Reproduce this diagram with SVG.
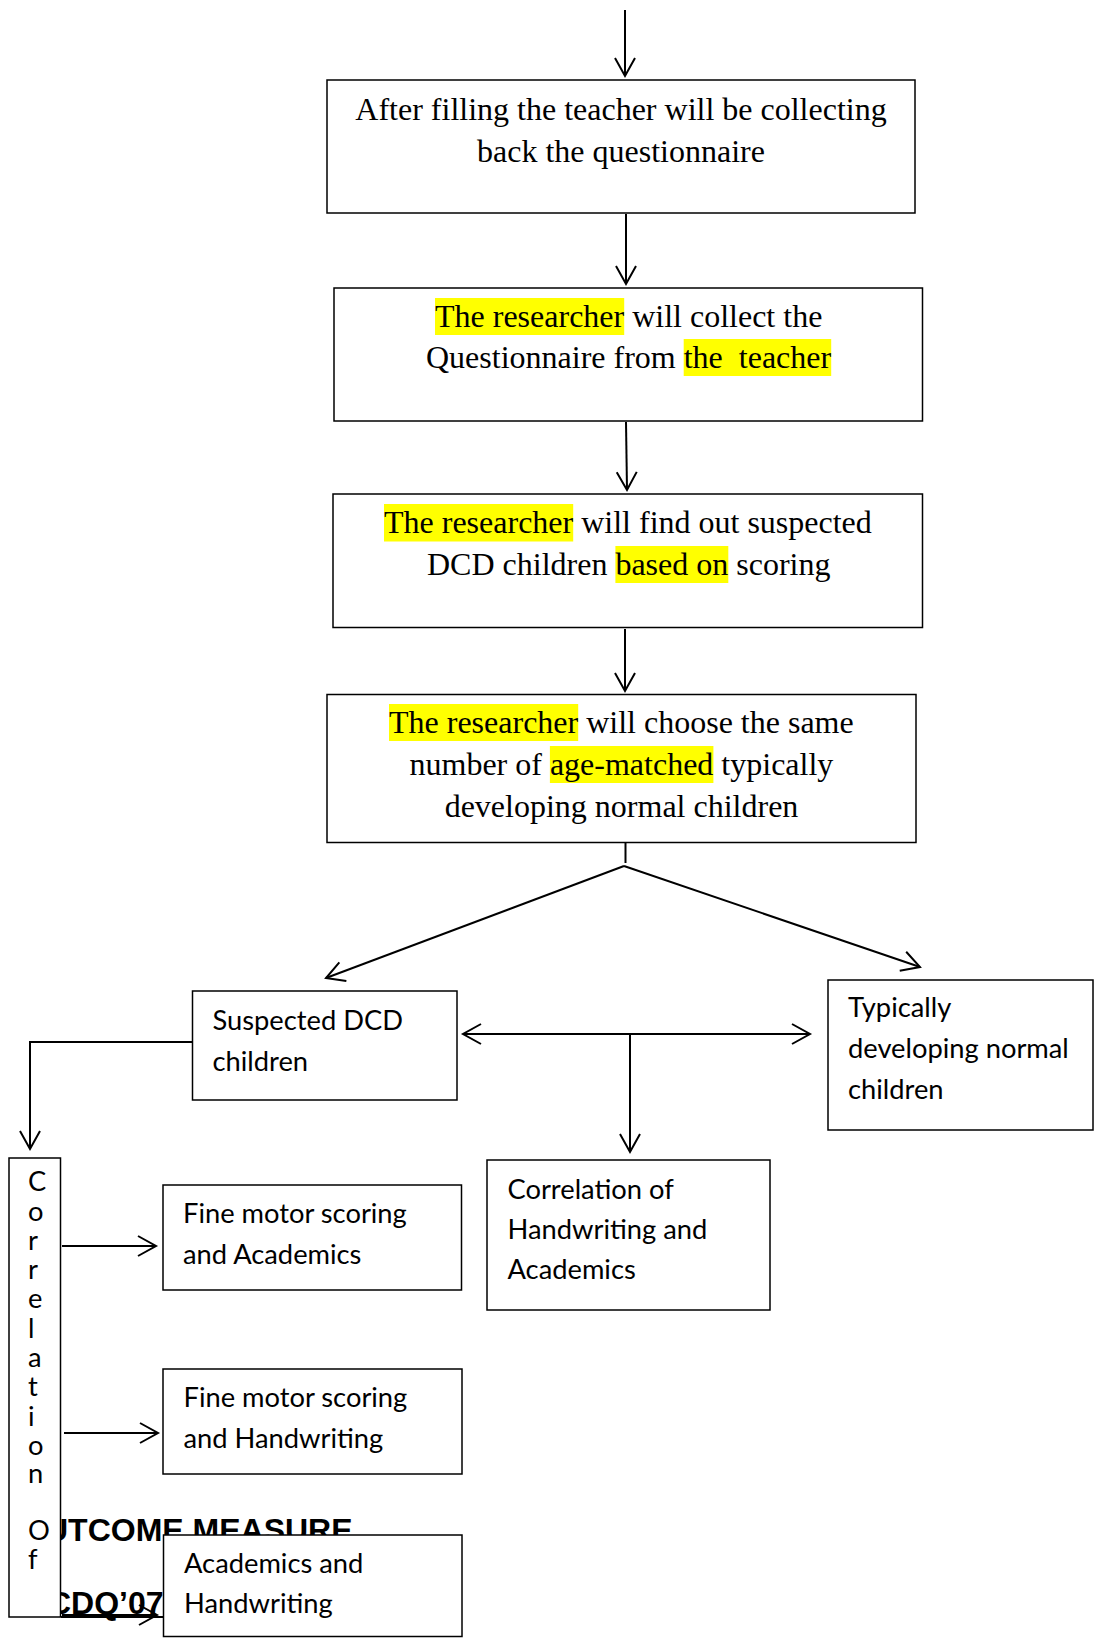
<svg xmlns="http://www.w3.org/2000/svg" width="1098" height="1648" viewBox="0 0 1098 1648">
<style>
.box{fill:#fff;stroke:#000;stroke-width:1.5}
.serif{font-family:"Liberation Serif","Times New Roman",serif;font-size:32px;fill:#000}
.sans{font-family:Lato,"Liberation Sans",sans-serif;font-size:27.3px;fill:#000}
.bold{font-family:"Liberation Sans",Arial,sans-serif;font-weight:bold;font-size:32px;fill:#000}
.hl{fill:#ffff00}
.conn{fill:none;stroke:#000;stroke-width:2}
</style>
<defs>
<marker id="ah" markerUnits="userSpaceOnUse" markerWidth="24" markerHeight="24" refX="20" refY="12" orient="auto-start-reverse" overflow="visible">
<path d="M2,2 L20,12 L2,22" fill="none" stroke="#000" stroke-width="2"/>
</marker>
</defs>
<rect width="1098" height="1648" fill="#fff"/>

<g id="stray-text">
<text class="bold" x="45" y="1541">UTCOME MEASURE</text>
<text class="bold" x="48" y="1614">CDQ’07</text>
<line x1="61" y1="1617" x2="163" y2="1617" stroke="#000" stroke-width="2"/>
</g>

<g id="n1">
<rect class="box" x="327" y="80" width="588" height="133"/>
<text class="serif" x="621" y="120" text-anchor="middle">After filling the teacher will be collecting</text>
<text class="serif" x="621" y="162" text-anchor="middle">back the questionnaire</text>
</g>

<g id="n2">
<rect class="box" x="334" y="288" width="588.5" height="133"/>
<rect class="hl" x="435" y="298" width="189.2" height="37"/>
<rect class="hl" x="683.7" y="339" width="147.5" height="37"/>
<text class="serif" x="435" y="327">The researcher will collect the</text>
<text class="serif" x="426" y="368" xml:space="preserve">Questionnaire from the  teacher</text>
</g>

<g id="n3">
<rect class="box" x="333" y="494" width="589.5" height="133.5"/>
<rect class="hl" x="384" y="504" width="189.2" height="37.5"/>
<rect class="hl" x="615.4" y="546" width="112.9" height="37"/>
<text class="serif" x="384" y="533">The researcher will find out suspected</text>
<text class="serif" x="427" y="575">DCD children based on scoring</text>
</g>

<g id="n4">
<rect class="box" x="327" y="694.5" width="589" height="148"/>
<rect class="hl" x="389" y="704" width="189.2" height="37"/>
<rect class="hl" x="549.9" y="746" width="163.5" height="37"/>
<text class="serif" x="389" y="733">The researcher will choose the same</text>
<text class="serif" x="409.5" y="775">number of age-matched typically</text>
<text class="serif" x="621.5" y="817" text-anchor="middle">developing normal children</text>
</g>

<g id="n5">
<rect class="box" x="192.5" y="991" width="264.5" height="109"/>
<text class="sans" x="212.5" y="1030">Suspected DCD</text>
<text class="sans" x="212.5" y="1071">children</text>
</g>

<g id="n6">
<rect class="box" x="828" y="980" width="265" height="150"/>
<text class="sans" x="848" y="1017">Typically</text>
<text class="sans" x="848" y="1058">developing normal</text>
<text class="sans" x="848" y="1099">children</text>
</g>

<g id="n7">
<rect class="box" x="487" y="1160" width="283" height="150"/>
<text class="sans" x="507.5" y="1199">Correlation of</text>
<text class="sans" x="507.5" y="1239">Handwriting and</text>
<text class="sans" x="507.5" y="1279">Academics</text>
</g>

<g id="n8">
<rect class="box" x="9" y="1158" width="51.5" height="459"/>
<g class="sans">
<text x="28" y="1191">C</text>
<text x="28" y="1221">o</text>
<text x="28" y="1250">r</text>
<text x="28" y="1279">r</text>
<text x="28" y="1308">e</text>
<text x="28" y="1338">l</text>
<text x="28" y="1367">a</text>
<text x="28" y="1396">t</text>
<text x="28" y="1426">i</text>
<text x="28" y="1455">o</text>
<text x="28" y="1483">n</text>
<text x="28" y="1540">O</text>
<text x="28" y="1569">f</text>
</g>
</g>

<g id="n9">
<rect class="box" x="163" y="1185" width="298.5" height="105"/>
<text class="sans" x="183" y="1223">Fine motor scoring</text>
<text class="sans" x="183" y="1264">and Academics</text>
</g>

<g id="n10">
<rect class="box" x="163" y="1369" width="299" height="105"/>
<text class="sans" x="183.5" y="1407">Fine motor scoring</text>
<text class="sans" x="183.5" y="1448">and Handwriting</text>
</g>

<g id="n11">
<rect class="box" x="163.5" y="1535" width="298.5" height="101.5"/>
<text class="sans" x="184" y="1573">Academics and</text>
<text class="sans" x="184" y="1613">Handwriting</text>
</g>

<g id="connectors" class="conn">
<path d="M625,10 V76" marker-end="url(#ah)"/>
<path d="M626,214 V284" marker-end="url(#ah)"/>
<path d="M626,422 L627,490" marker-end="url(#ah)"/>
<path d="M625,629 V691" marker-end="url(#ah)"/>
<path d="M625.5,843 V863"/>
<path d="M624,866 L326,978" marker-end="url(#ah)"/>
<path d="M624,866 L920,967" marker-end="url(#ah)"/>
<path d="M463,1034 H810" marker-start="url(#ah)" marker-end="url(#ah)"/>
<path d="M630,1034 V1152" marker-end="url(#ah)"/>
<path d="M192,1042 H30 V1149" marker-end="url(#ah)"/>
<path d="M62,1246 H156" marker-end="url(#ah)"/>
<path d="M64,1433 H158" marker-end="url(#ah)"/>
<path d="M62,1615 H157" marker-end="url(#ah)"/>
</g>
</svg>
